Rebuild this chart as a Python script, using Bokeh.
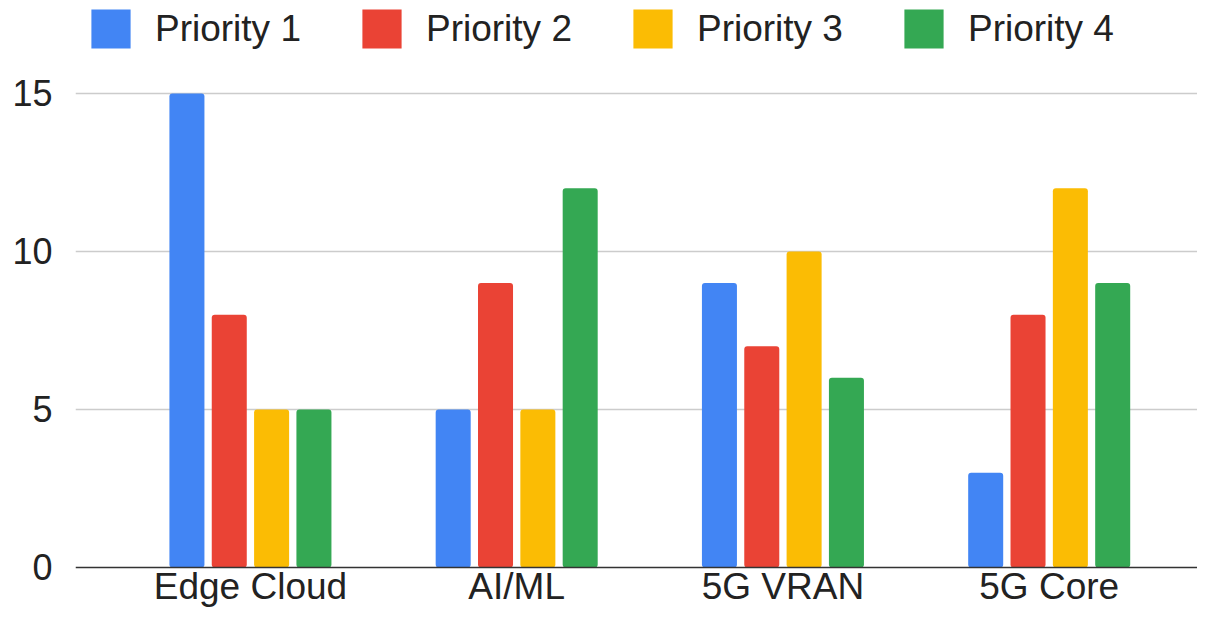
from bokeh.plotting import figure
from bokeh.models import ColumnDataSource, FixedTicker, Legend, LegendItem, Range1d, Span
from bokeh.core.properties import value
from bokeh.transform import dodge
from bokeh.embed import file_html
from bokeh.resources import INLINE

categories = ["Edge Cloud", "AI/ML", "5G VRAN", "5G Core"]
series_names = ["Priority 1", "Priority 2", "Priority 3", "Priority 4"]
priority_1 = [15, 5, 9, 3]
priority_2 = [8, 9, 7, 8]
priority_3 = [5, 5, 10, 12]
priority_4 = [5, 12, 6, 9]
y_ticks = [0, 5, 10, 15]

colors = ["#4285F4", "#EA4335", "#FBBC04", "#34A853"]
FONT = "Liberation Sans"

src = ColumnDataSource(dict(
    x=list(range(len(categories))),
    base=[0] * len(categories),
    cat=categories,
    p1=priority_1, p2=priority_2, p3=priority_3, p4=priority_4,
))

p = figure(width=1197, height=610, output_backend="svg", toolbar_location=None,
           x_range=Range1d(-0.657, 3.557), y_range=Range1d(-1.361, 17.94),
           min_border_left=75, min_border_right=0, min_border_top=0,
           min_border_bottom=0)
p.outline_line_color = None
p.background_fill_color = "white"
p.border_fill_color = "white"

offsets = [-0.2385, -0.0795, 0.0795, 0.2385]
renderers = []
for col, off, c in zip(["p1", "p2", "p3", "p4"], offsets, colors):
    r = p.vbar(x=dodge("x", off, range=p.x_range), top=col, width=0.1315,
               source=src, fill_color=c, line_color=None, border_radius=3)
    renderers.append(r)

# baseline (x axis line)
p.add_layout(Span(location=0, dimension="width", line_color="#333333", line_width=1.5))

# category labels under the baseline
p.text(x="x", y="base", text="cat", source=src, y_offset=19,
       text_align="center", text_baseline="alphabetic",
       text_font=value(FONT), text_font_size="37px", text_color="#222222")

legend = Legend(items=[LegendItem(label=n, renderers=[r]) for n, r in zip(series_names, renderers)],
                orientation="horizontal", location=(11, 557),
                glyph_width=49, glyph_height=49, label_standoff=20, spacing=56,
                padding=0, margin=0, border_line_color=None, background_fill_alpha=0,
                label_text_font=FONT, label_text_font_size="37px", label_text_color="#222222")
p.add_layout(legend, "center")

p.xaxis.visible = False

p.yaxis.ticker = FixedTicker(ticks=y_ticks)
p.yaxis.axis_line_color = None
p.yaxis.major_tick_line_color = None
p.yaxis.minor_tick_line_color = None
p.yaxis.major_tick_out = 0
p.yaxis.major_label_text_font = FONT
p.yaxis.major_label_text_font_size = "36px"
p.yaxis.major_label_text_color = "#222222"
p.yaxis.major_label_standoff = 23

p.xgrid.grid_line_color = None
p.ygrid.ticker = FixedTicker(ticks=y_ticks[1:])
p.ygrid.grid_line_color = "#cccccc"
p.ygrid.grid_line_width = 1.5

open("out.html", "w").write(file_html(p, INLINE))
